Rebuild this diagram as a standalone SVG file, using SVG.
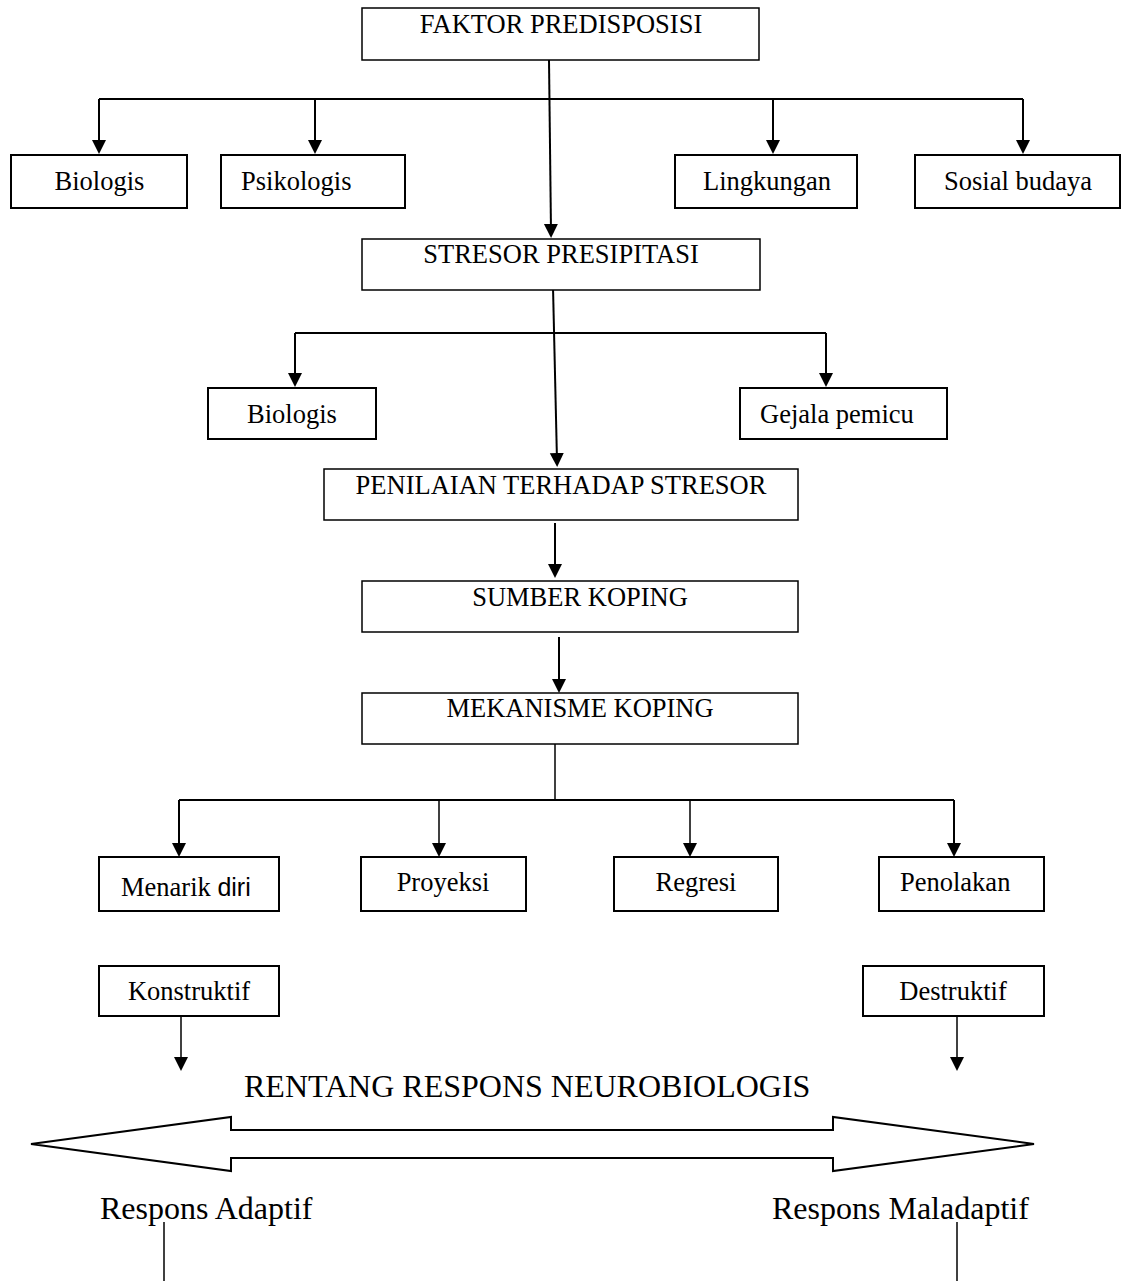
<svg xmlns="http://www.w3.org/2000/svg" width="1122" height="1281" viewBox="0 0 1122 1281">
<style>
.box{fill:#fff;stroke:#000;stroke-width:2}
.big{fill:#fff;stroke:#000;stroke-width:1.5}
.t{font-family:"Liberation Serif","Times New Roman",serif;font-size:26.5px;fill:#000}
.c{text-anchor:middle}
.lg{font-family:"Liberation Serif","Times New Roman",serif;font-size:32px;fill:#000}
.ln{fill:none;stroke:#000;stroke-width:2}
.thin{fill:none;stroke:#000;stroke-width:1.5}
.a{marker-end:url(#ah)}
</style>
<defs>
<marker id="ah" markerUnits="userSpaceOnUse" markerWidth="16" markerHeight="16" refX="8" refY="7" orient="auto">
<path d="M0,0 L14,7 L0,14 z" fill="#000"/>
</marker>
</defs>
<g id="connectors">
<line class="ln a" x1="549" y1="60" x2="551" y2="232"/>
<line class="ln" x1="99" y1="99" x2="1023" y2="99"/>
<line class="ln a" x1="99" y1="99" x2="99" y2="148"/>
<line class="ln a" x1="315" y1="99" x2="315" y2="148"/>
<line class="ln a" x1="773" y1="99" x2="773" y2="148"/>
<line class="ln a" x1="1023" y1="99" x2="1023" y2="148"/>
<line class="ln a" x1="553" y1="287" x2="557" y2="461"/>
<line class="ln" x1="295" y1="333" x2="826" y2="333"/>
<line class="ln a" x1="295" y1="333" x2="295" y2="381"/>
<line class="ln a" x1="826" y1="333" x2="826" y2="381"/>
<line class="ln a" x1="555" y1="523" x2="555" y2="572"/>
<line class="ln a" x1="559" y1="637" x2="559" y2="687"/>
<line class="thin" x1="555" y1="744" x2="555" y2="800"/>
<line class="ln" x1="179" y1="800" x2="954" y2="800"/>
<line class="ln a" x1="179" y1="800" x2="179" y2="851"/>
<line class="thin a" x1="439" y1="800" x2="439" y2="851"/>
<line class="thin a" x1="690" y1="800" x2="690" y2="851"/>
<line class="ln a" x1="954" y1="800" x2="954" y2="851"/>
<line class="thin a" x1="181" y1="1016" x2="181" y2="1065"/>
<line class="thin a" x1="957" y1="1016" x2="957" y2="1065"/>
<line class="thin" x1="164" y1="1222" x2="164" y2="1281"/>
<line class="thin" x1="957" y1="1222" x2="957" y2="1281"/>
</g>
<g id="n-faktor"><rect class="big" x="362" y="8" width="397" height="52"/><text class="t c" x="561" y="33">FAKTOR PREDISPOSISI</text></g>
<g id="n-biologis1"><rect class="box" x="11" y="155" width="176" height="53"/><text class="t c" x="99.5" y="190">Biologis</text></g>
<g id="n-psikologis"><rect class="box" x="221" y="155" width="184" height="53"/><text class="t" x="241" y="190">Psikologis</text></g>
<g id="n-lingkungan"><rect class="box" x="675" y="155" width="182" height="53"/><text class="t c" x="767" y="190">Lingkungan</text></g>
<g id="n-sosial"><rect class="box" x="915" y="155" width="205" height="53"/><text class="t c" x="1018" y="190">Sosial budaya</text></g>
<g id="n-stresor"><rect class="big" x="362" y="239" width="398" height="51"/><text class="t c" x="561" y="263">STRESOR PRESIPITASI</text></g>
<g id="n-biologis2"><rect class="box" x="208" y="388" width="168" height="51"/><text class="t c" x="292" y="423">Biologis</text></g>
<g id="n-gejala"><rect class="box" x="740" y="388" width="207" height="51"/><text class="t" x="760" y="423">Gejala pemicu</text></g>
<g id="n-penilaian"><rect class="big" x="324" y="469" width="474" height="51"/><text class="t c" x="561" y="494">PENILAIAN TERHADAP STRESOR</text></g>
<g id="n-sumber"><rect class="big" x="362" y="581" width="436" height="51"/><text class="t c" x="580" y="606">SUMBER KOPING</text></g>
<g id="n-mekanisme"><rect class="big" x="362" y="693" width="436" height="51"/><text class="t c" x="580" y="717">MEKANISME KOPING</text></g>
<g id="n-menarik"><rect class="box" x="99" y="857" width="180" height="54"/><text class="t" x="121" y="896">Menarik <tspan font-family="'Liberation Sans', Arial, sans-serif" font-size="25px">diri</tspan></text></g>
<g id="n-proyeksi"><rect class="box" x="361" y="857" width="165" height="54"/><text class="t c" x="443" y="891">Proyeksi</text></g>
<g id="n-regresi"><rect class="box" x="614" y="857" width="164" height="54"/><text class="t c" x="696" y="891">Regresi</text></g>
<g id="n-penolakan"><rect class="box" x="879" y="857" width="165" height="54"/><text class="t" x="900" y="891">Penolakan</text></g>
<g id="n-konstruktif"><rect class="box" x="99" y="966" width="180" height="50"/><text class="t c" x="189" y="1000">Konstruktif</text></g>
<g id="n-destruktif"><rect class="box" x="863" y="966" width="181" height="50"/><text class="t c" x="953" y="1000">Destruktif</text></g>
<g id="rentang">
<text class="lg" x="244" y="1097">RENTANG RESPONS NEUROBIOLOGIS</text>
<polygon points="31,1144 231,1117 231,1130 833,1130 833,1117 1034,1144 833,1171 833,1158 231,1158 231,1171" fill="#fff" stroke="#000" stroke-width="2"/>
<text class="lg" x="100" y="1219">Respons Adaptif</text>
<text class="lg" x="772" y="1219">Respons Maladaptif</text>
</g>
</svg>
